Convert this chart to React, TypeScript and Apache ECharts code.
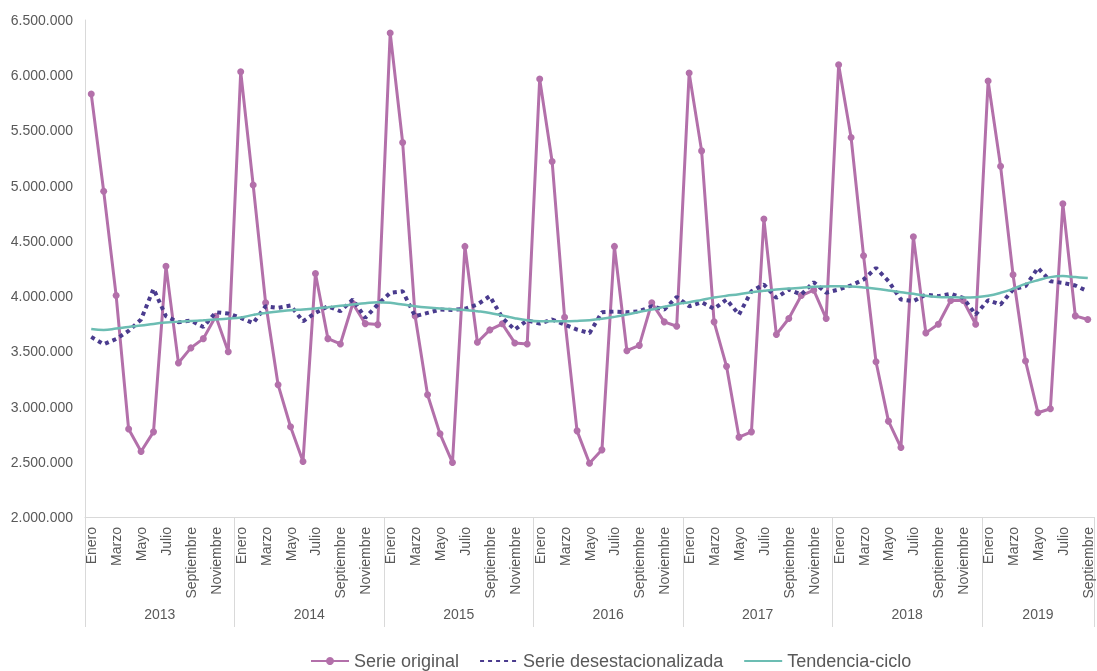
import React, { useEffect, useRef } from "react";
import * as echarts from "echarts";

const years = ["2013", "2014", "2015", "2016", "2017", "2018", "2019"];
const monthsPerYear = [12, 12, 12, 12, 12, 12, 9];
const monthNames = [
  "Enero", "Febrero", "Marzo", "Abril", "Mayo", "Junio",
  "Julio", "Agosto", "Septiembre", "Octubre", "Noviembre", "Diciembre",
];

const serieOriginal = [
  5830000, 4950000, 4005000, 2796000, 2593000, 2771000, 4271000, 3395000, 3531000, 3615000, 3818000, 3497000,
  6032000, 5006000, 3939000, 3198000, 2817000, 2502000, 4205000, 3615000, 3567000, 3933000, 3751000, 3742000,
  6383000, 5391000, 3820000, 3107000, 2753000, 2493000, 4450000, 3582000, 3694000, 3749000, 3576000, 3567000,
  5965000, 5219000, 3808000, 2780000, 2487000, 2608000, 4450000, 3506000, 3554000, 3939000, 3767000, 3727000,
  6020000, 5315000, 3767000, 3364000, 2723000, 2771000, 4698000, 3652000, 3797000, 4005000, 4054000, 3797000,
  6095000, 5436000, 4366000, 3406000, 2868000, 2629000, 4538000, 3667000, 3745000, 3960000, 3960000, 3745000,
  5947000, 5176000, 4193000, 3413000, 2944000, 2980000, 4837000, 3821000, 3788000,
];

const serieDesestacionalizada = [
  3631000, 3564000, 3612000, 3685000, 3788000, 4066000, 3818000, 3763000, 3778000, 3721000, 3854000, 3842000,
  3803000, 3755000, 3908000, 3894000, 3915000, 3772000, 3848000, 3908000, 3863000, 3969000, 3803000, 3924000,
  4030000, 4044000, 3818000, 3848000, 3878000, 3875000, 3885000, 3924000, 4000000, 3803000, 3697000, 3780000,
  3751000, 3788000, 3742000, 3697000, 3665000, 3854000, 3860000, 3854000, 3863000, 3908000, 3878000, 3993000,
  3908000, 3945000, 3885000, 3969000, 3833000, 4044000, 4105000, 3984000, 4060000, 4014000, 4126000, 4030000,
  4060000, 4096000, 4150000, 4255000, 4135000, 3969000, 3954000, 4014000, 4000000, 4020000, 3984000, 3833000,
  3963000, 3924000, 4060000, 4090000, 4255000, 4135000, 4120000, 4096000, 4044000,
];

const tendenciaCiclo = [
  3703000, 3694000, 3706000, 3721000, 3733000, 3748000, 3760000, 3769000, 3775000, 3781000, 3788000, 3797000,
  3806000, 3830000, 3848000, 3860000, 3872000, 3878000, 3887000, 3899000, 3912000, 3924000, 3936000, 3945000,
  3939000, 3924000, 3908000, 3896000, 3887000, 3881000, 3875000, 3863000, 3848000, 3824000, 3800000, 3781000,
  3772000, 3772000, 3772000, 3775000, 3781000, 3794000, 3812000, 3833000, 3857000, 3878000, 3903000, 3927000,
  3945000, 3966000, 3987000, 4003000, 4017000, 4035000, 4048000, 4060000, 4069000, 4075000, 4084000, 4087000,
  4090000, 4087000, 4078000, 4066000, 4051000, 4035000, 4021000, 4003000, 3993000, 3990000, 3987000, 3990000,
  4003000, 4030000, 4066000, 4111000, 4144000, 4172000, 4181000, 4172000, 4163000,
];

const yTicks = { min: 2000000, max: 6500000, step: 500000 };

const categories: string[] = years.flatMap((_, k) => monthNames.slice(0, monthsPerYear[k]));

const yearCenters: { pos: number; label: string }[] = (() => {
  let start = 0;
  return years.map((y, k) => {
    const c = { pos: start + monthsPerYear[k] / 2, label: y };
    start += monthsPerYear[k];
    return c;
  });
})();

const fmtThousands = (v: number) =>
  String(Math.round(v)).replace(/\B(?=(\d{3})+(?!\d))/g, ".");

const FONT = "'Liberation Sans', Arial, Helvetica, sans-serif";
const GREY = "#595959";
const AXIS = "#D9D9D9";
const C_ORIG = "#B370AA";
const C_DES = "#4A3B8E";
const C_TEND = "#6CBDB3";

export default function App() {
  const ref = useRef<HTMLDivElement>(null);

  useEffect(() => {
    if (!ref.current) return;
    const chart = echarts.init(ref.current, undefined, { renderer: "svg" });
    const n = categories.length;
    chart.setOption({
      animation: false,
      textStyle: { fontFamily: FONT },
      grid: { left: 85, top: 20, width: n * 12.53, height: 497, containLabel: false },
      xAxis: [
        {
          type: "category",
          data: categories,
          boundaryGap: true,
          position: "bottom",
          axisLine: { show: true, lineStyle: { color: AXIS, width: 1 } },
          axisTick: {
            show: true,
            interval: (i: number) => i % 12 === 0,
            length: 110,
            lineStyle: { color: AXIS, width: 1 },
          },
          axisLabel: {
            interval: (i: number) => i % 2 === 0,
            rotate: 90,
            margin: 10,
            fontSize: 14,
            color: GREY,
            fontFamily: FONT,
          },
          splitLine: { show: false },
        },
        {
          type: "value",
          min: 0,
          max: n,
          interval: 0.5,
          position: "bottom",
          offset: 0,
          axisLine: { show: false },
          axisTick: { show: false },
          splitLine: { show: false },
          axisLabel: {
            margin: 90,
            fontSize: 14,
            color: GREY,
            fontFamily: FONT,
            showMinLabel: true,
            showMaxLabel: true,
            formatter: (v: number) => {
              const f = yearCenters.find((c) => Math.abs(c.pos - v) < 1e-6);
              return f ? f.label : "";
            },
          },
        },
      ],
      yAxis: {
        type: "value",
        min: yTicks.min,
        max: yTicks.max,
        interval: yTicks.step,
        axisLine: { show: true, lineStyle: { color: AXIS, width: 1 } },
        axisTick: { show: false },
        splitLine: { show: false },
        axisLabel: {
          margin: 12,
          fontSize: 14,
          color: GREY,
          fontFamily: FONT,
          formatter: (v: number) => fmtThousands(v),
        },
      },
      legend: {
        top: 647,
        left: 305,
        itemWidth: 38,
        itemHeight: 10,
        itemGap: 20,
        textStyle: { fontSize: 18, color: GREY, fontFamily: FONT },
        data: [
          { name: "Serie original" },
          { name: "Serie desestacionalizada", itemStyle: { opacity: 0 } },
          { name: "Tendencia-ciclo", itemStyle: { opacity: 0 } },
        ],
      },
      series: [
        {
          name: "Serie original",
          type: "line",
          xAxisIndex: 0,
          data: serieOriginal,
          symbol: "circle",
          symbolSize: 7,
          showSymbol: true,
          lineStyle: { color: C_ORIG, width: 3 },
          itemStyle: { color: C_ORIG },
          z: 2,
        },
        {
          name: "Serie desestacionalizada",
          type: "line",
          xAxisIndex: 0,
          data: serieDesestacionalizada,
          symbol: "none",
          lineStyle: { color: C_DES, width: 4, type: [4, 4] },
          itemStyle: { color: C_DES },
          z: 3,
        },
        {
          name: "Tendencia-ciclo",
          type: "line",
          xAxisIndex: 0,
          data: tendenciaCiclo,
          symbol: "none",
          smooth: 0.4,
          lineStyle: { color: C_TEND, width: 2.5 },
          itemStyle: { color: C_TEND },
          z: 4,
        },
      ],
    });
    return () => chart.dispose();
  }, []);

  return (
    <div
      ref={ref}
      style={{ position: "fixed", left: 0, top: 0, width: 1097, height: 671 }}
    />
  );
}
